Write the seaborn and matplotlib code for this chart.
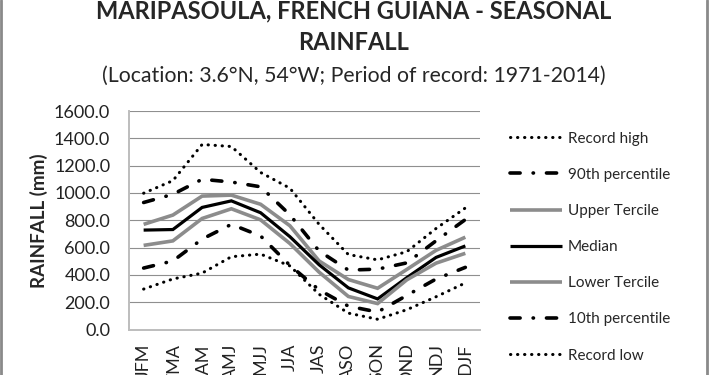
import matplotlib
matplotlib.use("Agg")
import matplotlib.pyplot as plt
import seaborn as sns
import pandas as pd
from matplotlib.lines import Line2D

# --- data (mm) ---
seasons = ["JFM", "FMA", "MAM", "AMJ", "MJJ", "JJA", "JAS", "ASO", "SON", "OND", "NDJ", "DJF"]
record_high = [998, 1090, 1355, 1340, 1150, 1035, 770, 549, 510, 570, 740, 890]
p90 = [930, 990, 1100, 1080, 1045, 840, 575, 435, 442, 488, 650, 805]
upper_tercile = [770, 838, 977, 984, 917, 760, 502, 366, 302, 440, 580, 676]
median = [728, 732, 894, 942, 855, 680, 474, 305, 224, 380, 528, 612]
lower_tercile = [616, 649, 813, 884, 803, 630, 420, 242, 190, 364, 486, 558]
p10 = [450, 502, 662, 770, 685, 470, 290, 171, 128, 250, 370, 455]
record_low = [296, 370, 413, 533, 552, 466, 258, 120, 75, 145, 240, 341]
y_ticks = [0, 200, 400, 600, 800, 1000, 1200, 1400, 1600]

series = {
    "Record high": record_high,
    "90th percentile": p90,
    "Upper Tercile": upper_tercile,
    "Median": median,
    "Lower Tercile": lower_tercile,
    "10th percentile": p10,
    "Record low": record_low,
}

# line look per series: colour, width, dash pattern
dots = (0, (0.1, 2.2))
dashdot = (0, (2.8, 3.6, 0.1, 3.6))
styles = {
    "Record high": ("black", 2.2, dots),
    "90th percentile": ("black", 2.6, dashdot),
    "Upper Tercile": ("#8c8c8c", 2.6, "-"),
    "Median": ("black", 2.3, "-"),
    "Lower Tercile": ("#8c8c8c", 2.6, "-"),
    "10th percentile": ("black", 2.6, dashdot),
    "Record low": ("black", 2.2, dots),
}

sns.set_style("white")
plt.rcParams["font.family"] = ["Lato", "DejaVu Sans"]

fig = plt.figure(figsize=(7.1, 3.75), dpi=100)
ax = fig.add_axes([0.1817, 0.1213, 0.4943, 0.5827])

for name, vals in series.items():
    color, lw, ls = styles[name]
    df = pd.DataFrame({"season": seasons, "rain": vals})
    sns.lineplot(data=df, x="season", y="rain", ax=ax, color=color, linewidth=lw,
                 linestyle=ls, sort=False, label=name,
                 dash_capstyle="round", solid_capstyle="butt", solid_joinstyle="miter")

ax.set_xlim(-0.5, 11.5)
ax.set_ylim(0, 1600)
ax.set_yticks(y_ticks)
ax.set_yticklabels([f"{v:.1f}" for v in y_ticks])
ax.set_xticks(range(len(seasons)))
ax.set_xticklabels(seasons, rotation=90, va="top")
ax.tick_params(axis="both", length=0, labelsize=13, colors="#222222")
ax.tick_params(axis="y", pad=13.5)
ax.tick_params(axis="x", pad=10)
ax.set_xlabel("")
ax.set_ylabel("RAINFALL (mm)", fontsize=13.5, fontweight="bold", labelpad=4)

ax.grid(axis="y", color="#8f8f8f", linewidth=0.8)
ax.set_axisbelow(True)
for side in ["top", "right"]:
    ax.spines[side].set_visible(False)
for side in ["left", "bottom"]:
    ax.spines[side].set_color("#bdbdbd")
    ax.spines[side].set_linewidth(1.4)

leg = ax.legend(loc="upper left", bbox_to_anchor=(0.718, 0.649), bbox_transform=fig.transFigure,
                frameon=False, fontsize=11, handlelength=3.4, handletextpad=0.4,
                labelspacing=1.45, borderpad=0, borderaxespad=0)

fig.text(0.4986, 0.952, "MARIPASOULA, FRENCH GUIANA - SEASONAL", ha="center", va="baseline",
         fontsize=17, fontweight="bold")
fig.text(0.4986, 0.867, "RAINFALL", ha="center", va="baseline", fontsize=17, fontweight="bold")
fig.text(0.4986, 0.781, "(Location: 3.6°N, 54°W; Period of record: 1971-2014)", ha="center",
         va="baseline", fontsize=15.3)

# chart frame edges on left and right
fig.add_artist(Line2D([0.002, 0.002], [0, 1], transform=fig.transFigure, color="#8a8a8a", linewidth=2))
fig.add_artist(Line2D([0.996, 0.996], [0, 1], transform=fig.transFigure, color="#8a8a8a", linewidth=2))

fig.savefig("out.png", dpi=100)
